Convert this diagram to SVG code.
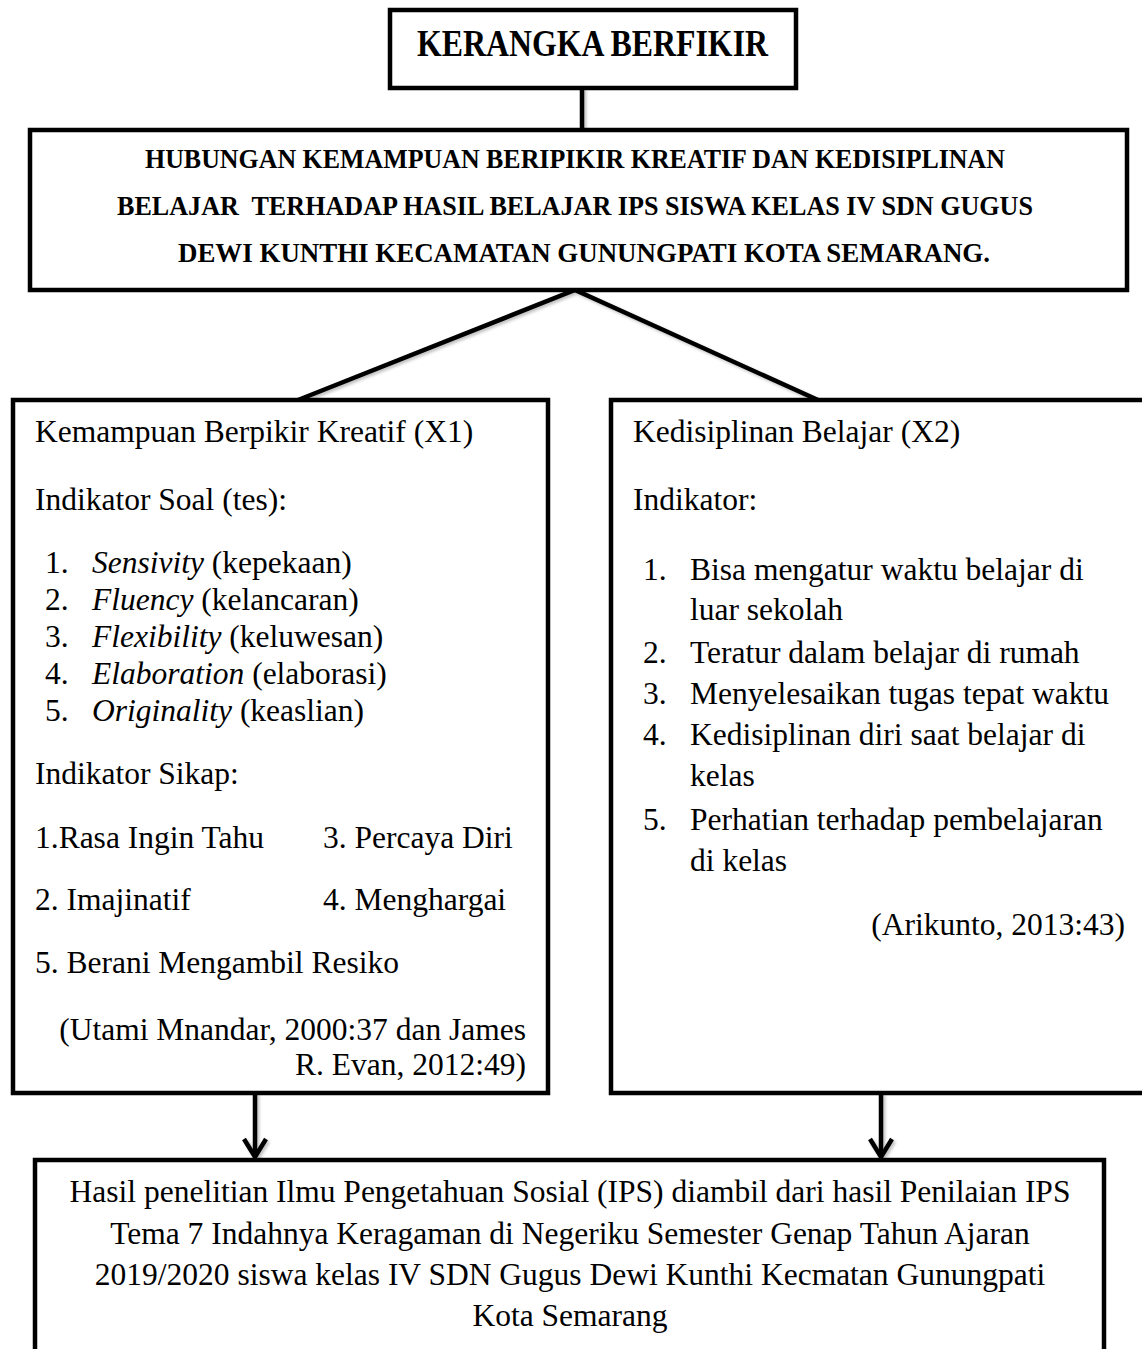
<svg xmlns="http://www.w3.org/2000/svg" width="1142" height="1349" viewBox="0 0 1142 1349">
<style>
  .box { fill: #fff; stroke: #000; stroke-width: 4.5; }
  .ln { fill: none; stroke: #000; stroke-width: 4.5; }
  .t { font-family: "Liberation Serif", "Times New Roman", serif; font-size: 31.5px; fill: #000; }
  .hb { font-family: "Liberation Serif", "Times New Roman", serif; font-weight: bold; font-size: 28px; fill: #000; white-space: pre; }
  .it { font-style: italic; }
</style>
<defs>
  <marker id="arr" viewBox="0 0 22 26" refX="19" refY="13" markerWidth="22" markerHeight="26" markerUnits="userSpaceOnUse" orient="auto" overflow="visible">
    <path d="M1,2 L19,13 L1,24" fill="none" stroke="#000" stroke-width="4.5" stroke-linejoin="miter"/>
  </marker>
  <filter id="sh" x="-20%" y="-20%" width="140%" height="140%">
    <feDropShadow dx="2" dy="2" stdDeviation="1.5" flood-color="#000" flood-opacity="0.25"/>
  </filter>
</defs>

<g id="connectors" filter="url(#sh)">
  <line class="ln" x1="582" y1="88" x2="582" y2="130"/>
  <polyline class="ln" points="298,400 575,290 818,400"/>
  <line class="ln" x1="255" y1="1093" x2="255" y2="1157" marker-end="url(#arr)"/>
  <line class="ln" x1="881" y1="1093" x2="881" y2="1157" marker-end="url(#arr)"/>
</g>

<g id="title">
  <rect class="box" x="390" y="10" width="406" height="78"/>
  <text x="417" y="56" font-family="Liberation Serif, serif" font-weight="bold" font-size="37" textLength="351" lengthAdjust="spacingAndGlyphs">KERANGKA BERFIKIR</text>
</g>

<g id="header">
  <rect class="box" x="30" y="130" width="1097" height="160"/>
  <text class="hb" x="145" y="168" textLength="860" lengthAdjust="spacingAndGlyphs">HUBUNGAN KEMAMPUAN BERIPIKIR KREATIF DAN KEDISIPLINAN</text>
  <text class="hb" x="117" y="215" textLength="916" lengthAdjust="spacingAndGlyphs" xml:space="preserve">BELAJAR  TERHADAP HASIL BELAJAR IPS SISWA KELAS IV SDN GUGUS</text>
  <text class="hb" x="178" y="262" textLength="812" lengthAdjust="spacingAndGlyphs">DEWI KUNTHI KECAMATAN GUNUNGPATI KOTA SEMARANG.</text>
</g>

<g id="x1">
  <rect class="box" x="13" y="400" width="535" height="693"/>
  <text class="t" x="35" y="442">Kemampuan Berpikir Kreatif (X1)</text>
  <text class="t" x="35" y="510">Indikator Soal (tes):</text>
  <text class="t" x="45" y="573">1.</text><text class="t" x="92" y="573"><tspan class="it">Sensivity</tspan> (kepekaan)</text>
  <text class="t" x="45" y="610">2.</text><text class="t" x="92" y="610"><tspan class="it">Fluency</tspan> (kelancaran)</text>
  <text class="t" x="45" y="647">3.</text><text class="t" x="92" y="647"><tspan class="it">Flexibility</tspan> (keluwesan)</text>
  <text class="t" x="45" y="684">4.</text><text class="t" x="92" y="684"><tspan class="it">Elaboration</tspan> (elaborasi)</text>
  <text class="t" x="45" y="721">5.</text><text class="t" x="92" y="721"><tspan class="it">Originality</tspan> (keaslian)</text>
  <text class="t" x="35" y="784">Indikator Sikap:</text>
  <text class="t" x="35" y="848">1.Rasa Ingin Tahu</text>
  <text class="t" x="323" y="848">3. Percaya Diri</text>
  <text class="t" x="35" y="910">2. Imajinatif</text>
  <text class="t" x="323" y="910">4. Menghargai</text>
  <text class="t" x="35" y="973">5. Berani Mengambil Resiko</text>
  <text class="t" x="526" y="1040" text-anchor="end">(Utami Mnandar, 2000:37 dan James</text>
  <text class="t" x="526" y="1075" text-anchor="end">R. Evan, 2012:49)</text>
</g>

<g id="x2">
  <rect class="box" x="611" y="400" width="560" height="693"/>
  <text class="t" x="633" y="442">Kedisiplinan Belajar (X2)</text>
  <text class="t" x="633" y="510">Indikator:</text>
  <text class="t" x="643" y="580">1.</text><text class="t" x="690" y="580">Bisa mengatur waktu belajar di</text>
  <text class="t" x="690" y="620">luar sekolah</text>
  <text class="t" x="643" y="663">2.</text><text class="t" x="690" y="663">Teratur dalam belajar di rumah</text>
  <text class="t" x="643" y="704">3.</text><text class="t" x="690" y="704">Menyelesaikan tugas tepat waktu</text>
  <text class="t" x="643" y="745">4.</text><text class="t" x="690" y="745">Kedisiplinan diri saat belajar di</text>
  <text class="t" x="690" y="786">kelas</text>
  <text class="t" x="643" y="830">5.</text><text class="t" x="690" y="830">Perhatian terhadap pembelajaran</text>
  <text class="t" x="690" y="871">di kelas</text>
  <text class="t" x="1125" y="935" text-anchor="end">(Arikunto, 2013:43)</text>
</g>

<g id="result">
  <rect class="box" x="35" y="1160" width="1069" height="220"/>
  <text class="t" x="570" y="1202" text-anchor="middle">Hasil penelitian Ilmu Pengetahuan Sosial (IPS) diambil dari hasil Penilaian IPS</text>
  <text class="t" x="570" y="1244" text-anchor="middle">Tema 7 Indahnya Keragaman di Negeriku Semester Genap Tahun Ajaran</text>
  <text class="t" x="570" y="1285" text-anchor="middle">2019/2020 siswa kelas IV SDN Gugus Dewi Kunthi Kecmatan Gunungpati</text>
  <text class="t" x="570" y="1326" text-anchor="middle">Kota Semarang</text>
</g>
</svg>
